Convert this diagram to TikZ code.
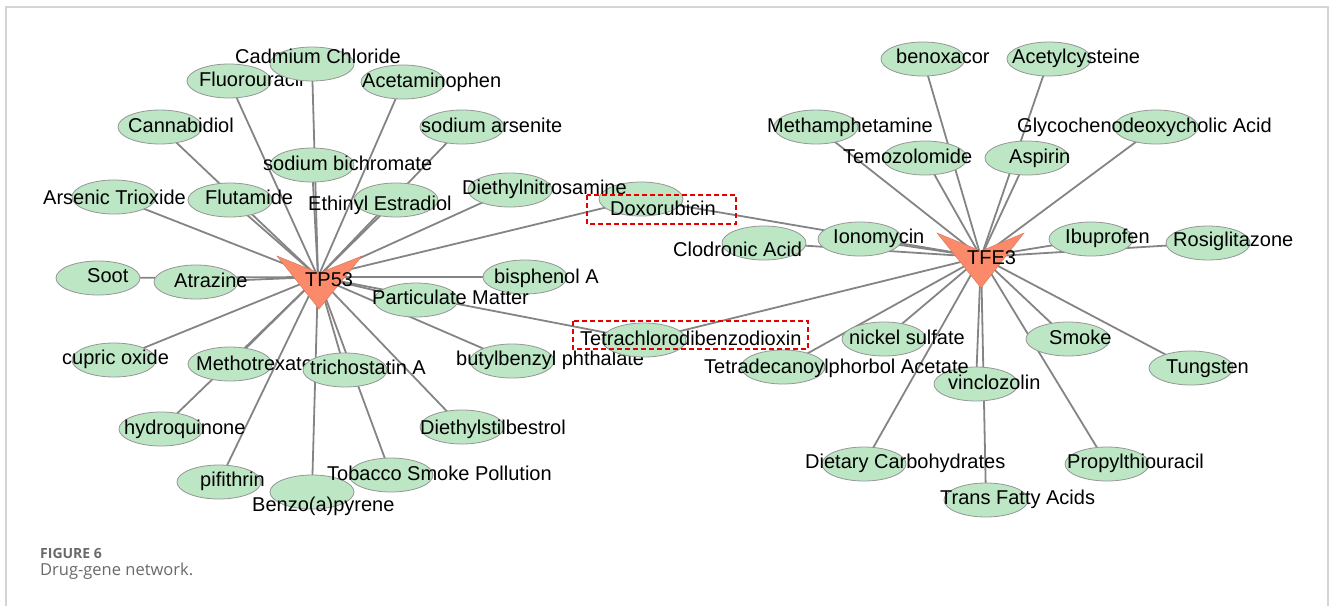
\documentclass[tikz,border=0pt]{standalone}
\usepackage{fontspec}
\setmainfont{Liberation Sans}
\newfontfamily\capfont{Open Sans}
\usetikzlibrary{shapes.geometric}
\definecolor{nodegreen}{RGB}{188,230,196}
\definecolor{edgegray}{RGB}{132,132,132}
\definecolor{rimgray}{RGB}{150,150,150}
\definecolor{hubred}{RGB}{250,138,106}
\definecolor{framegray}{RGB}{212,212,212}
\definecolor{capgray}{RGB}{105,105,105}
\pgfdeclarelayer{background}
\pgfsetlayers{background,main}
\tikzset{
  drug/.style={ellipse, draw=rimgray, fill=nodegreen, line width=0.8pt,
    minimum width=84pt, minimum height=34pt, inner sep=0pt},
  lbl/.style={anchor=base west, inner sep=0pt, font=\fontsize{20}{21}\selectfont, text=black},
  link/.style={draw=edgegray, line width=1.8pt},
  hub/.style={fill=hubred, draw=hubred!85!black, line width=0.4pt},
  hilite/.style={draw=red!90!black, line width=1.1pt, dash pattern=on 5pt off 3pt},
  framepen/.style={draw=framegray, line width=1.5pt},
}
\newcommand\drugat[6]{%
  \node[drug] (#1) at (#2,#3) {};
  \node[lbl] (#1-l) at (#4,#5+7) {#6};
}
\begin{document}
\begin{tikzpicture}[x=1pt,y=-1pt]
\useasboundingbox (0,0) rectangle (1330,606);
\draw[framepen] (6,606) -- (6,7) -- (1328,7) -- (1328,606);

\coordinate (tp53) at (318,277);
\coordinate (tfe3) at (981,257);

% left cluster
\drugat{fluo}{229}{81}{199}{79}{Fluorouracil}
\drugat{cad}{312}{64}{235}{56}{Cadmium Chloride}
\drugat{acet}{403}{82}{362}{80}{Acetaminophen}
\drugat{cann}{160}{127}{128}{125}{Cannabidiol}
\drugat{sars}{462}{127}{421}{125}{sodium arsenite}
\drugat{sbic}{312}{165}{263}{163}{sodium bichromate}
\drugat{arse}{114}{197}{43}{197}{Arsenic Trioxide}
\drugat{flut}{230}{200}{205}{197}{Flutamide}
\drugat{ethi}{396}{200}{308}{203}{Ethinyl Estradiol}
\drugat{doxo}{641}{199}{610}{208}{Doxorubicin}
\drugat{dien}{510}{190}{462}{187}{Diethylnitrosamine}
\drugat{soot}{98}{278}{87}{275}{Soot}
\drugat{atra}{196}{282}{174}{280}{Atrazine}
\drugat{bisp}{525}{277}{494}{276}{bisphenol A}
\drugat{part}{416}{300}{372}{297}{Particulate Matter}
\drugat{cupr}{114}{360}{62}{357}{cupric oxide}
\drugat{meth}{230}{364}{196}{363}{Methotrexate}
\drugat{tric}{345}{370}{310}{367}{trichostatin A}
\drugat{hydr}{161}{429}{124}{427}{hydroquinone}
\drugat{dies}{462}{427}{420}{427}{Diethylstilbestrol}
\drugat{pifi}{219}{482}{200}{479}{pifithrin}
\drugat{benz}{312}{492}{252}{504}{Benzo(a)pyrene}
\drugat{toba}{391}{475}{327}{473}{Tobacco Smoke Pollution}
\drugat{buty}{512}{361}{456}{358}{butylbenzyl phthalate}
\drugat{tcdd}{644}{340}{580}{338}{Tetrachlorodibenzodioxin}

% right cluster
\drugat{clod}{764}{243}{673}{249}{Clodronic Acid}
\drugat{iono}{860}{239}{833}{236}{Ionomycin}
\drugat{vinc}{976}{384}{948}{382}{vinclozolin}
\drugat{tetra}{783}{367}{704}{366}{Tetradecanoylphorbol Acetate}
\drugat{nick}{884}{339}{849}{337}{nickel sulfate}
\drugat{smok}{1068}{339}{1049}{337}{Smoke}
\drugat{tung}{1191}{368}{1166}{366}{Tungsten}
\drugat{diet}{864}{464}{805}{461}{Dietary Carbohydrates}
\drugat{prop}{1107}{464}{1067}{461}{Propylthiouracil}
\drugat{tran}{986}{500}{940}{497}{Trans Fatty Acids}
\drugat{beno}{923}{59}{896}{56}{benoxacor}
\drugat{acety}{1049}{59}{1012}{56}{Acetylcysteine}
\drugat{metha}{816}{127}{767}{125}{Methamphetamine}
\drugat{glyc}{1156}{127}{1017}{125}{Glycochenodeoxycholic Acid}
\drugat{temo}{925}{158}{843}{156}{Temozolomide}
\drugat{aspi}{1027}{158}{1009}{156}{Aspirin}
\drugat{ibup}{1091}{239}{1065}{236}{Ibuprofen}
\drugat{rosi}{1208}{243}{1173}{239}{Rosiglitazone}

% edges
\begin{pgfonlayer}{background}
\foreach \n in {cad,fluo,acet,cann,sars,sbic,arse,flut,ethi,dien,doxo,soot,atra,
  part,bisp,cupr,meth,tric,buty,tcdd,hydr,dies,pifi,toba,benz}
  \draw[link] (tp53) -- (\n.center);
\foreach \n in {doxo,tcdd,beno,acety,metha,glyc,temo,aspi,iono,clod,ibup,rosi,
  tetra,nick,smok,vinc,tung,diet,prop,tran}
  \draw[link] (tfe3) -- (\n.center);
\end{pgfonlayer}

% hubs
\filldraw[hub] (277,256) -- (319,273) -- (362,256) -- (319,309) -- cycle;
\node[lbl] (tp53-l) at (305,279+7) {TP53};
\filldraw[hub] (937,233) -- (981,251) -- (1024,233) -- (981,288) -- cycle;
\node[lbl] (tfe3-l) at (967,257+7) {TFE3};

% highlighted drugs
\draw[hilite] (587,195) rectangle (736,224);
\draw[hilite] (573,321) rectangle (808,349);

% caption
\node[anchor=base west, inner sep=0pt, text=capgray,
  font=\capfont\bfseries\fontsize{14}{15}\selectfont] (figno) at (40,558) {FIGURE 6};
\node[anchor=base west, inner sep=0pt, text=capgray,
  font=\capfont\fontsize{16.5}{17}\selectfont] (figcap) at (40,575) {Drug-gene network.};
\end{tikzpicture}
\end{document}
